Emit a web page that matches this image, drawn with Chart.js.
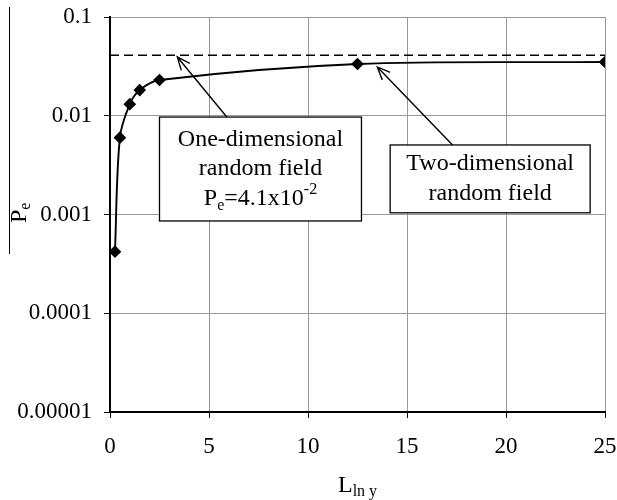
<!DOCTYPE html>
<html>
<head>
<meta charset="utf-8">
<script src="https://cdn.jsdelivr.net/npm/chart.js@4"></script>
<style>
	html, body { margin: 0; padding: 0; background: #fff; }
	#wrap { width: 617px; height: 500px; }
</style>
</head>
<body>
<div id="wrap"><canvas id="chart" width="617" height="500"></canvas></div>
<script>
	// data
	const lengths = [0.25, 0.5, 1, 1.5, 2.5, 12.5, 25];
	const probs = [0.00042, 0.006, 0.0131, 0.0182, 0.023, 0.0334, 0.035];
	const limitX = [0, 25];
	const limitP = [0.041, 0.041];
	const xTicks = [0, 5, 10, 15, 20, 25];
	const yTicks = [0.00001, 0.0001, 0.001, 0.01, 0.1];
	const yTickLabels = ["0.00001", "0.0001", "0.001", "0.01", "0.1"];

	const serif = "'Liberation Serif', 'Times New Roman', serif";

	// text boxes + arrows, placed in data units
	const notes = [
		{ x0: 2.5, x1: 12.7, yTop: 0.0097, yBot: 0.00086, arrowFrom: 5.9, tipX: 3.4, tipY: 0.0394,
		  lines: [["One-dimensional"], ["random field"], ["P", "e", "=4.1x10", "-2"]] },
		{ x0: 14.15, x1: 24.25, yTop: 0.00506, yBot: 0.00104, arrowFrom: 17.3, tipX: 13.5, tipY: 0.0312,
		  lines: [["Two-dimensional"], ["random field"]] }
	];

	const extras = {
		id: "extras",
		afterDraw(chart) {
			const { ctx, scales: { x, y } } = chart;
			ctx.save();
			ctx.fillStyle = "#000";
			ctx.strokeStyle = "#000";

			notes.forEach(n => {
				const l = x.getPixelForValue(n.x0), r = x.getPixelForValue(n.x1);
				const t = y.getPixelForValue(n.yTop), b = y.getPixelForValue(n.yBot);
				ctx.fillStyle = "#fff";
				ctx.fillRect(l, t, r - l, b - t);
				ctx.lineWidth = 1.3;
				ctx.strokeRect(l, t, r - l, b - t);
				ctx.fillStyle = "#000";

				const cx = (l + r) / 2;
				const step = 29.5;
				const first = (t + b) / 2 - step * (n.lines.length - 1) / 2;
				ctx.textBaseline = "middle";
				n.lines.forEach((parts, i) => {
					const ly = first + i * step;
					if (parts.length === 1) {
						ctx.font = "24px " + serif;
						ctx.textAlign = "center";
						ctx.fillText(parts[0], cx, ly);
						return;
					}
					// P_e=4.1x10^-2
					ctx.textAlign = "left";
					ctx.font = "24px " + serif;
					const wP = ctx.measureText(parts[0]).width;
					const wM = ctx.measureText(parts[2]).width;
					ctx.font = "16px " + serif;
					const wS = ctx.measureText(parts[1]).width;
					const wU = ctx.measureText(parts[3]).width;
					let px = cx - (wP + wS + wM + wU) / 2;
					ctx.font = "24px " + serif;
					ctx.fillText(parts[0], px, ly); px += wP;
					ctx.font = "16px " + serif;
					ctx.fillText(parts[1], px, ly + 7); px += wS;
					ctx.font = "24px " + serif;
					ctx.fillText(parts[2], px, ly); px += wM;
					ctx.font = "16px " + serif;
					ctx.fillText(parts[3], px, ly - 9);
				});

				// arrow with open head
				const sx = x.getPixelForValue(n.arrowFrom), sy = t;
				const tx = x.getPixelForValue(n.tipX), ty = y.getPixelForValue(n.tipY);
				ctx.lineWidth = 1.4;
				ctx.beginPath();
				ctx.moveTo(sx, sy);
				ctx.lineTo(tx, ty);
				const a = Math.atan2(sy - ty, sx - tx);
				const h = 14;
				ctx.moveTo(tx + h * Math.cos(a - 0.4), ty + h * Math.sin(a - 0.4));
				ctx.lineTo(tx, ty);
				ctx.lineTo(tx + h * Math.cos(a + 0.4), ty + h * Math.sin(a + 0.4));
				ctx.stroke();
			});

			// axis titles with subscripts
			ctx.textBaseline = "alphabetic";
			ctx.textAlign = "left";
			ctx.font = "24px " + serif;
			const wL = ctx.measureText("L").width;
			const lx = 338, ly = 492;
			ctx.fillText("L", lx, ly);
			ctx.font = "16px " + serif;
			ctx.fillText("ln y", lx + wL, ly + 4);

			ctx.save();
			ctx.translate(26, 223);
			ctx.rotate(-Math.PI / 2);
			ctx.font = "24px " + serif;
			const wPe = ctx.measureText("P").width;
			ctx.fillText("P", 0, 0);
			ctx.font = "16px " + serif;
			ctx.fillText("e", wPe, 4);
			ctx.restore();

			// page edge line at far left
			ctx.lineWidth = 1;
			ctx.beginPath();
			ctx.moveTo(9.5, 7);
			ctx.lineTo(9.5, 254);
			ctx.stroke();

			ctx.restore();
		}
	};

	new Chart(document.getElementById("chart"), {
		type: "scatter",
		data: {
			datasets: [
				{
					label: "Pe",
					data: lengths.map((v, i) => ({ x: v, y: probs[i] })),
					showLine: true,
					tension: 0.33,
					borderColor: "#000",
					borderWidth: 1.9,
					pointStyle: "rectRot",
					pointRadius: 5,
					pointBackgroundColor: "#000",
					pointBorderColor: "#000"
				},
				{
					label: "limit",
					data: limitX.map((v, i) => ({ x: v, y: limitP[i] })),
					showLine: true,
					borderColor: "#000",
					borderWidth: 1.6,
					borderDash: [9, 5],
					pointRadius: 0
				}
			]
		},
		options: {
			responsive: false,
			animation: false,
			layout: { padding: { top: 17, right: 12, left: 0, bottom: 0 } },
			plugins: { legend: { display: false }, tooltip: { enabled: false } },
			scales: {
				x: {
					type: "linear",
					min: 0,
					max: 25,
					afterBuildTicks: s => { s.ticks = xTicks.map(v => ({ value: v })); },
					afterFit: s => { s.height = 88; s.paddingLeft = 0; s.paddingRight = 0; },
					ticks: {
						color: "#000",
						font: { family: serif, size: 23 },
						padding: 15,
						maxRotation: 0
					},
					grid: { color: "#999", lineWidth: 1, tickColor: "#000", tickLength: 6 },
					border: { color: "#000", width: 2 }
				},
				y: {
					type: "logarithmic",
					min: 0.00001,
					max: 0.1,
					afterBuildTicks: s => { s.ticks = yTicks.map(v => ({ value: v })); },
					afterFit: s => { s.width = 110; s.paddingTop = 0; s.paddingBottom = 0; },
					ticks: {
						color: "#000",
						font: { family: serif, size: 23 },
						padding: 12,
						callback: v => yTickLabels[yTicks.indexOf(v)] ?? ""
					},
					grid: { color: "#999", lineWidth: 1, tickColor: "#000", tickLength: 6 },
					border: { color: "#000", width: 2 }
				}
			}
		},
		plugins: [extras]
	});
</script>
</body>
</html>
